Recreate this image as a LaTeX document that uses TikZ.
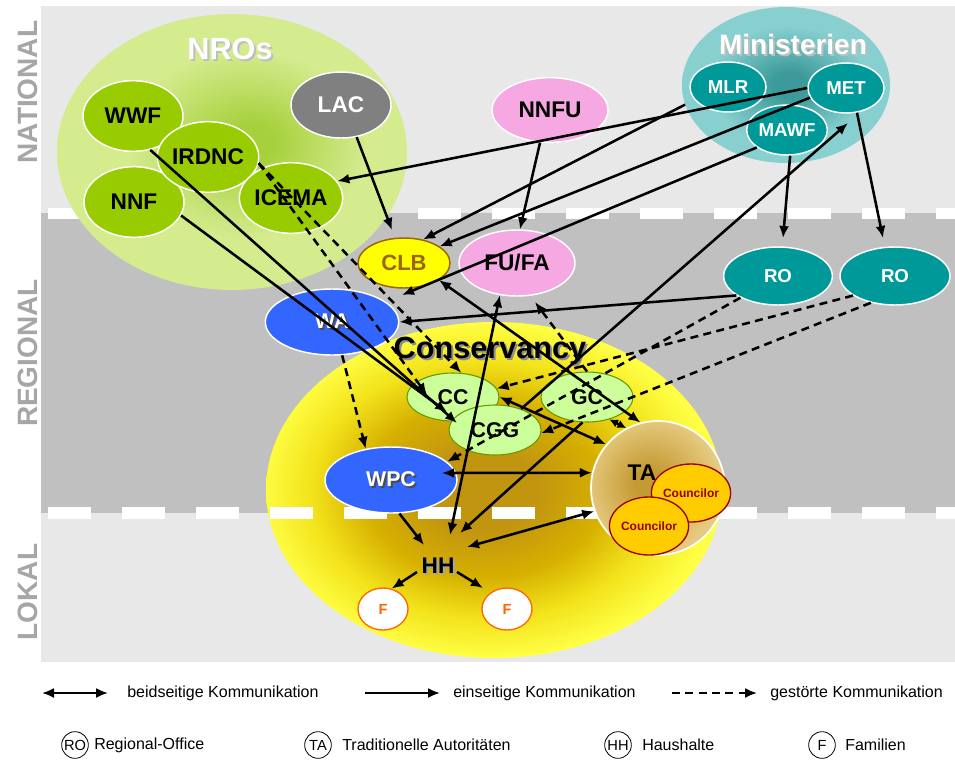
\documentclass[tikz,border=0pt]{standalone}
\usepackage{fontspec}
\setmainfont{Liberation Sans}
\usetikzlibrary{shapes.geometric,arrows.meta,calc}

% ---------- colours ----------
\definecolor{natbg}{HTML}{E8E8E8}
\definecolor{regbg}{HTML}{C0C0C0}
\definecolor{lokbg}{HTML}{E8E8E8}
\definecolor{sidelbl}{HTML}{A6A6A6}
\definecolor{ngofill}{HTML}{99CC00}
\definecolor{lacfill}{HTML}{808080}
\definecolor{mintealfill}{HTML}{009999}
\definecolor{pinkfill}{HTML}{F5A8E2}
\definecolor{clbfill}{HTML}{FFFF00}
\definecolor{clbline}{HTML}{996600}
\definecolor{bluefill}{HTML}{3366FF}
\definecolor{ccfill}{HTML}{CCFF99}
\definecolor{ccline}{HTML}{669900}
\definecolor{counfill}{HTML}{FFCC00}
\definecolor{counline}{HTML}{990000}
\definecolor{forange}{HTML}{FF6600}
\definecolor{nroA}{HTML}{A6D03C}
\definecolor{nroB}{HTML}{D4EB8E}
\definecolor{minA}{HTML}{3C9A9A}
\definecolor{minB}{HTML}{88D0D0}
\definecolor{consA}{HTML}{C29510}
\definecolor{consB}{HTML}{D6B000}
\definecolor{consC}{HTML}{F2E21A}
\definecolor{consD}{HTML}{FFFF45}
\definecolor{taA}{HTML}{C49A32}
\definecolor{taB}{HTML}{E6CA80}

% ---------- shadings ----------
\pgfdeclareradialshading{nroshade}{\pgfpoint{3bp}{2bp}}{color(0bp)=(nroA); color(3bp)=(nroA); color(17bp)=(nroB); color(25bp)=(nroB); color(50bp)=(nroB)}
\pgfdeclareradialshading{minshade}{\pgfpoint{1bp}{0bp}}{color(0bp)=(minA); color(4bp)=(minA); color(19bp)=(minB); color(25bp)=(minB); color(50bp)=(minB)}
\pgfdeclareradialshading{consshade}{\pgfpoint{-1.5bp}{0bp}}{color(0bp)=(consA); color(6bp)=(consA); color(13bp)=(consB); color(19bp)=(consC); color(25bp)=(consD); color(50bp)=(consD)}
\pgfdeclareradialshading{tashade}{\pgfpoint{-4bp}{2bp}}{color(0bp)=(taA); color(5bp)=(taA); color(25bp)=(taB); color(50bp)=(taB)}

\newcommand{\fsz}[1]{\fontsize{#1}{#1}\selectfont}
% text with a drop shadow: colour of the shadow, text
\newcommand{\shadowed}[2]{\makebox[0pt][l]{\hspace*{1.5pt}\raisebox{-1.5pt}{\textcolor{#1}{#2}}}#2}

\tikzset{
  level/.style={rotate=90, font=\bfseries\fsz{21}, text=sidelbl, inner sep=0pt},
  org/.style={ellipse, inner sep=0pt, draw=white, line width=1.1pt, font=\bfseries\fsz{17}},
  ngo/.style={org, fill=ngofill, minimum width=75pt, minimum height=53pt},
  ministry/.style={org, fill=mintealfill, text=white, minimum width=57pt, minimum height=37.5pt, font=\bfseries\fsz{14}},
  farmer/.style={org, fill=pinkfill, minimum width=87pt, minimum height=48.5pt},
  regoffice/.style={org, fill=mintealfill, text=white, minimum width=81.5pt, minimum height=43.5pt, font=\bfseries\fsz{14}},
  bluebox/.style={org, fill=bluefill, text=white, minimum width=100pt, minimum height=49.5pt, font=\bfseries\fsz{16}},
  consbody/.style={ellipse, inner sep=0pt, draw=ccline, line width=0.8pt, fill=ccfill, minimum width=69pt, minimum height=37pt, font=\bfseries\fsz{16}},
  councilbox/.style={ellipse, inner sep=0pt, draw=counline, line width=1pt, fill=counfill, text=counline, minimum width=49.5pt, minimum height=43.5pt, font=\bfseries\fsz{9}},
  family/.style={ellipse, inner sep=0pt, draw=forange, line width=1pt, fill=white, text=forange, minimum width=37.5pt, minimum height=31.5pt, font=\bfseries\fsz{11}},
  title/.style={font=\bfseries\fsz{23}, inner sep=0pt},
  bounddash/.style={white, line width=8.5pt, dash pattern=on 32.25pt off 23.25pt},
  arone/.style={line width=1.9pt, -{Latex[length=9pt,width=7.5pt]}},
  artwo/.style={line width=1.9pt, {Latex[length=9pt,width=7.5pt]}-{Latex[length=9pt,width=7.5pt]}},
  artwoshort/.style={line width=1.9pt, {Latex[length=6.5pt,width=6.5pt]}-{Latex[length=6.5pt,width=6.5pt]}},
  ardash/.style={arone, dash pattern=on 6pt off 4pt},
  legtext/.style={anchor=west, inner sep=0pt, font=\fsz{12}},
  legcirc/.style={circle, draw, line width=0.6pt, minimum size=20pt, inner sep=0pt, font=\fsz{11}},
}

\begin{document}
\begin{tikzpicture}[x=0.75pt,y=-0.75pt]
\useasboundingbox (0,0) rectangle (955,760);
\fill[white] (0,0) rectangle (955,760);

% ---------- the three levels ----------
\fill[natbg] (41,6) rectangle (955,213);
\fill[regbg] (41,213) rectangle (955,513);
\fill[lokbg] (41,513) rectangle (955,662);
\node[level] (lvN) at (27.5,92) {NATIONAL};
\node[level] (lvR) at (27.5,353) {REGIONAL};
\node[level] (lvL) at (27.5,592) {LOKAL};

% ---------- conservancy area ----------
\node[ellipse, inner sep=0pt, minimum width=342pt, minimum height=252pt, shade, shading=consshade] (cons) at (494,490) {};

% boundaries between the levels
\draw[bounddash] (48,213.5) -- (955,213.5);
\draw[bounddash] (48,513) -- (955,513);

% ---------- NROs ----------
\node[ellipse, inner sep=0pt, minimum width=262.5pt, minimum height=207pt, shade, shading=nroshade] (nros) at (232,152) {};
\node[title, text=white] (nrosT) at (230,50) {\shadowed{black!25}{NROs}};
\node[ngo] (WWF) at (133,116) {WWF};
\node[ngo] (NNF) at (134,202) {NNF};
\node[ngo] (IRDNC) at (208,157) {IRDNC};
\node[ngo] (ICEMA) at (291,198) {ICEMA};
\node[org, fill=lacfill, text=white, minimum width=75pt, minimum height=49.5pt] (LAC) at (341,105) {LAC};

% ---------- ministries ----------
\node[ellipse, inner sep=0pt, minimum width=156pt, minimum height=117pt, shade, shading=minshade] (mini) at (786,85) {};
\node[font=\bfseries\fsz{21}, text=white, inner sep=0pt] (miniT) at (793,45) {\shadowed{black!25}{Ministerien}};
\node[ministry] (MLR) at (728,87) {MLR};
\node[ministry] (MET) at (846,88) {MET};
\node[ministry] (MAWF) at (787,130) {MAWF};

% ---------- farmers' union, regional bodies ----------
\node[farmer] (NNFU) at (550,110) {NNFU};
\node[farmer, minimum height=49.5pt] (FUFA) at (517,263) {FU/FA};
\node[org, fill=clbfill, draw=clbline, text=clbline, minimum width=69pt, minimum height=37.5pt, font=\bfseries\fsz{16.5}] (CLB) at (404,263) {CLB};
\node[regoffice] (RO1) at (778,276) {RO};
\node[regoffice, minimum width=82.5pt] (RO2) at (895,276) {RO};
\node[bluebox] (WA) at (332,322) {\shadowed{black!70}{WA}};
\node[bluebox, minimum width=99pt] (WPC) at (391,480) {\shadowed{black!70}{WPC}};

% ---------- conservancy bodies ----------
\node[consbody, minimum height=36pt] (CC) at (453,397) {CC};
\node[consbody, minimum height=37.5pt] (GC) at (587,397) {GC};
\node[consbody, minimum height=37.5pt] (CGG) at (495,430) {CGG};
\node[title] (consT) at (490,352) {\shadowed{black!45}{Conservancy}};

% ---------- traditional authority ----------
\node[circle, inner sep=0pt, minimum size=100.5pt, shade, shading=tashade, draw=white, line width=1.3pt] (TA) at (658,488) {};
\node[font=\bfseries\fsz{17}, inner sep=0pt] (TAT) at (642,473) {TA};
\node[councilbox] (coun1) at (691,493) {Councilor};
\node[councilbox] (coun2) at (649,526) {Councilor};

% ---------- households and families ----------
\node[font=\bfseries\fsz{17}, inner sep=1pt] (HH) at (438,567) {\shadowed{black!35}{HH}};
\node[family] (F1) at (383,609) {F};
\node[family] (F2) at (507,609) {F};

% ---------- one-way communication ----------
\draw[arone] (MET.west) -- (ICEMA.20);
\draw[arone] (mini.191) -- (CLB.51);
\draw[arone] (MET.195) -- (CLB.25);
\draw[arone] (MAWF.210) -- ($(WA)+(70,-27)$);
\draw[arone] (NNFU.253) -- (FUFA.85);
\draw[arone] (LAC.296) -- ($(CLB)+(-12,-33)$);
\draw[arone] (WWF.-63) -- ($(CGG)+(-38,-7)$);
\draw[arone] (NNF.-16) -- ($(CC)+(-6,15)$);
\draw[arone] (RO1.205) -- (WA.east);
\draw[arone] (MAWF.-83) -- ($(RO1)+(5,-38)$);
\draw[arone] (MET.-66) -- ($(RO2)+(-12,-38)$);
\draw[arone] (CGG.39) -- ($(MET)+(2,35)$);
\draw[arone] (GC.260) -- ($(HH)+(22,-34)$);
\draw[arone] (WPC.-76) -- ($(HH)+(-14,-22)$);
\draw[arone] ($(HH)+(-21,5)$) -- (F1.67);
\draw[arone] ($(HH)+(19,5)$) -- ($(F2)+(-24,-21)$);

% ---------- two-way communication ----------
\draw[artwo] (CLB.-26) -- (TA.105);
\draw[artwo] (FUFA.242) -- ($(HH)+(12,-32)$);
\draw[artwo] (CC.east) -- (TA.140);
\draw[artwoshort] (GC.-45) -- (TA.118);
\draw[artwo] ($(WPC)+(51,-7)$) -- (TA.167);
\draw[artwo] ($(HH)+(29,-20)$) -- (TA.200);

% ---------- disturbed communication ----------
\draw[ardash] (IRDNC.-7) -- (CC.71);
\draw[ardash] (IRDNC.-7) -- ($(CC)+(-26,-2)$);
\draw[ardash] (WA.-73) -- (WPC.129);
\draw[ardash] (RO1.210) -- (WPC.18);
\draw[ardash] (RO2.205) -- (CC.11);
\draw[ardash] (RO2.228) -- (CGG.-4);
\draw[ardash] (GC.north) -- ($(FUFA)+(18,39)$);

% ---------- legend ----------
\coordinate (k1a) at (42,693);  \coordinate (k1b) at (108,693);
\coordinate (k2a) at (365,693); \coordinate (k2b) at (440,693);
\coordinate (k3a) at (672,693); \coordinate (k3b) at (757,693);
\draw[artwo, line width=1.5pt] (k1a) -- (k1b);
\draw[arone, line width=1.5pt] (k2a) -- (k2b);
\draw[ardash, line width=1.5pt] (k3a) -- (k3b);
\node[legtext] (k1t) at (127,693) {beidseitige Kommunikation};
\node[legtext] (k2t) at (453,693) {einseitige Kommunikation};
\node[legtext] (k3t) at (770,693) {gestörte Kommunikation};

\node[legcirc] (kRO) at (75,745) {RO};
\node[legtext] (kROt) at (94,745) {Regional-Office};
\node[legcirc] (kTA) at (318,745) {TA};
\node[legtext] (kTAt) at (342,745) {Traditionelle Autoritäten};
\node[legcirc] (kHH) at (618,745) {HH};
\node[legtext] (kHHt) at (642,745) {Haushalte};
\node[legcirc] (kF) at (822,745) {F};
\node[legtext] (kFt) at (845,745) {Familien};
\end{tikzpicture}
\end{document}
